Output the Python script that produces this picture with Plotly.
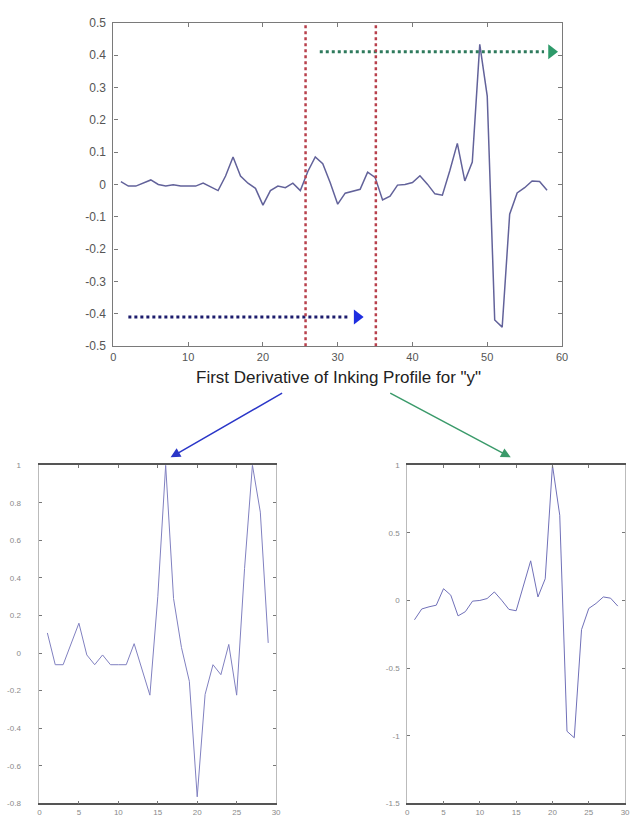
import plotly.graph_objects as go

# ---- data ----
top_x = list(range(1, 59))
top_y = [0.009, -0.005, -0.005, 0.004, 0.014, 0.000, -0.005, -0.001, -0.005, -0.005,
         -0.005, 0.004, -0.008, -0.019, 0.026, 0.085, 0.026, 0.004, -0.012, -0.064,
         -0.019, -0.005, -0.010, 0.004, -0.019, 0.040, 0.085, 0.064, 0.005, -0.061,
         -0.027, -0.020, -0.015, 0.038, 0.022, -0.048, -0.036, -0.002, 0.000, 0.006,
         0.027, 0.001, -0.029, -0.033, 0.043, 0.127, 0.011, 0.069, 0.433, 0.273,
         -0.419, -0.441, -0.092, -0.026, -0.010, 0.011, 0.009, -0.018]

left_x = list(range(1, 30))
left_y = [0.107, -0.062, -0.062, 0.050, 0.159, -0.010, -0.062, -0.010, -0.062, -0.062,
          -0.062, 0.050, -0.087, -0.224, 0.300, 1.000, 0.290, 0.030, -0.150, -0.765,
          -0.220, -0.062, -0.115, 0.046, -0.224, 0.450, 1.000, 0.750, 0.054]

right_x = list(range(1, 30))
right_y = [-0.143, -0.063, -0.047, -0.035, 0.087, 0.039, -0.114, -0.083, -0.005, 0.000,
           0.014, 0.063, 0.002, -0.066, -0.076, 0.100, 0.293, 0.026, 0.160, 1.000,
           0.630, -0.967, -1.015, -0.216, -0.059, -0.022, 0.026, 0.017, -0.042]

top_yticks = [0.5, 0.4, 0.3, 0.2, 0.1, 0, -0.1, -0.2, -0.3, -0.4, -0.5]
top_xticks = [0, 10, 20, 30, 40, 50, 60]
left_yticks = [-0.8, -0.6, -0.4, -0.2, 0, 0.2, 0.4, 0.6, 0.8, 1]
right_yticks = [-1.5, -1, -0.5, 0, 0.5, 1]
bottom_xticks = [0, 5, 10, 15, 20, 25, 30]

window_bounds = [25.7, 35.1]
blue_arrow = dict(x0=2, x1=32.6, y=-0.41)
green_arrow = dict(x0=27.6, x1=58.6, y=0.41)

title_text = 'First Derivative of Inking Profile for "y"'


def fmt(v):
    return '%g' % v


W, H = 638, 833
fig = go.Figure()

fig.add_trace(go.Scatter(x=top_x, y=top_y, mode="lines",
                         line=dict(color="#62629a", width=1.5),
                         xaxis="x", yaxis="y", showlegend=False))
fig.add_trace(go.Scatter(x=left_x, y=left_y, mode="lines",
                         line=dict(color="#8080c0", width=1),
                         xaxis="x2", yaxis="y2", showlegend=False))
fig.add_trace(go.Scatter(x=right_x, y=right_y, mode="lines",
                         line=dict(color="#7070b8", width=1),
                         xaxis="x3", yaxis="y3", showlegend=False))

# dotted horizontal arrows in the top chart
fig.add_trace(go.Scatter(x=[blue_arrow["x0"], blue_arrow["x1"] - 1.0],
                         y=[blue_arrow["y"], blue_arrow["y"]], mode="lines",
                         line=dict(color="#1c1c6c", width=3, dash="dot"),
                         xaxis="x", yaxis="y", showlegend=False))
fig.add_trace(go.Scatter(x=[blue_arrow["x1"]], y=[blue_arrow["y"]], mode="markers",
                         marker=dict(symbol="triangle-right", size=13, color="#1e2ee0"),
                         xaxis="x", yaxis="y", showlegend=False))
fig.add_trace(go.Scatter(x=[green_arrow["x0"], green_arrow["x1"] - 1.0],
                         y=[green_arrow["y"], green_arrow["y"]], mode="lines",
                         line=dict(color="#2e7a5c", width=3, dash="dot"),
                         xaxis="x", yaxis="y", showlegend=False))
fig.add_trace(go.Scatter(x=[green_arrow["x1"]], y=[green_arrow["y"]], mode="markers",
                         marker=dict(symbol="triangle-right", size=13, color="#2e9a6a"),
                         xaxis="x", yaxis="y", showlegend=False))

for xb in window_bounds:
    fig.add_shape(type="line", xref="x", yref="y", x0=xb, x1=xb, y0=-0.5, y1=0.5,
                  line=dict(color="#b8404c", width=2.5, dash="dot"))

tickfont_top = dict(family="Liberation Sans, Arial", size=12, color="#555555")
tickfont_topx = dict(family="Liberation Sans, Arial", size=11, color="#555555")
tickfont_small = dict(family="Liberation Sans, Arial", size=8, color="#8a8a8a")

fig.update_layout(
    width=W, height=H,
    margin=dict(l=0, r=0, t=0, b=0),
    paper_bgcolor="white", plot_bgcolor="white",
    hovermode=False,
    xaxis=dict(domain=[112 / W, 567 / W], range=[0, 60], tickvals=top_xticks,
               ticktext=[fmt(v) for v in top_xticks], anchor="y",
               showline=True, mirror="ticks", linecolor="#7a7a7a", linewidth=1.2,
               ticks="inside", ticklen=4, tickcolor="#7a7a7a", ticklabelstandoff=0,
               showgrid=False, zeroline=False, tickfont=tickfont_topx),
    yaxis=dict(domain=[1 - 345 / H, 1 - 16 / H], range=[-0.5, 0.5], tickvals=top_yticks,
               ticktext=[fmt(v) for v in top_yticks], anchor="x",
               showline=True, mirror="ticks", linecolor="#7a7a7a", linewidth=1.2,
               ticks="inside", ticklen=4, tickcolor="#7a7a7a", ticklabelstandoff=4,
               showgrid=False, zeroline=False, tickfont=tickfont_top),
    xaxis2=dict(domain=[37 / W, 277 / W], range=[0, 30], tickvals=bottom_xticks,
                ticktext=[fmt(v) for v in bottom_xticks], anchor="y2",
                showline=True, mirror="ticks", linecolor="#555555", linewidth=1.5,
                ticks="inside", ticklen=3, tickcolor="#777777",
                showgrid=False, zeroline=False, tickfont=tickfont_small),
    yaxis2=dict(domain=[1 - 810 / H, 1 - 466 / H], range=[-0.8, 1], tickvals=left_yticks,
                ticktext=[fmt(v) for v in left_yticks], anchor="x2",
                showline=True, mirror="ticks", linecolor="#bbbbbb", linewidth=1,
                ticks="inside", ticklen=3, tickcolor="#777777", ticklabelstandoff=16,
                showgrid=False, zeroline=False, tickfont=tickfont_small),
    xaxis3=dict(domain=[410 / W, 631 / W], range=[0, 30], tickvals=bottom_xticks,
                ticktext=[fmt(v) for v in bottom_xticks], anchor="y3",
                showline=True, mirror="ticks", linecolor="#555555", linewidth=1.5,
                ticks="inside", ticklen=3, tickcolor="#777777",
                showgrid=False, zeroline=False, tickfont=tickfont_small),
    yaxis3=dict(domain=[1 - 810 / H, 1 - 466 / H], range=[-1.5, 1], tickvals=right_yticks,
                ticktext=[fmt(v) for v in right_yticks], anchor="x3",
                showline=True, mirror="ticks", linecolor="#bbbbbb", linewidth=1,
                ticks="inside", ticklen=3, tickcolor="#777777", ticklabelstandoff=5,
                showgrid=False, zeroline=False, tickfont=tickfont_small),
)

fig.add_annotation(text=title_text, xref="paper", yref="paper",
                   x=340 / W, y=1 - 377 / H, showarrow=False,
                   font=dict(family="Liberation Sans, Arial", size=17, color="#222222"))

# diagonal arrows to the two sub-windows
fig.add_annotation(xref="paper", yref="paper", x=170 / W, y=1 - 458 / H,
                   ax=113, ay=-65, text="", showarrow=True,
                   arrowhead=2, arrowsize=1.3, arrowwidth=1.5, arrowcolor="#2a36c8")
fig.add_annotation(xref="paper", yref="paper", x=515 / W, y=1 - 458 / H,
                   ax=-122, ay=-65, text="", showarrow=True,
                   arrowhead=2, arrowsize=1.3, arrowwidth=1.5, arrowcolor="#3a9a6a")

fig.write_html("out.html", config={"displayModeBar": False},
               post_script="document.body.style.margin='0';document.body.style.overflow='hidden';")
